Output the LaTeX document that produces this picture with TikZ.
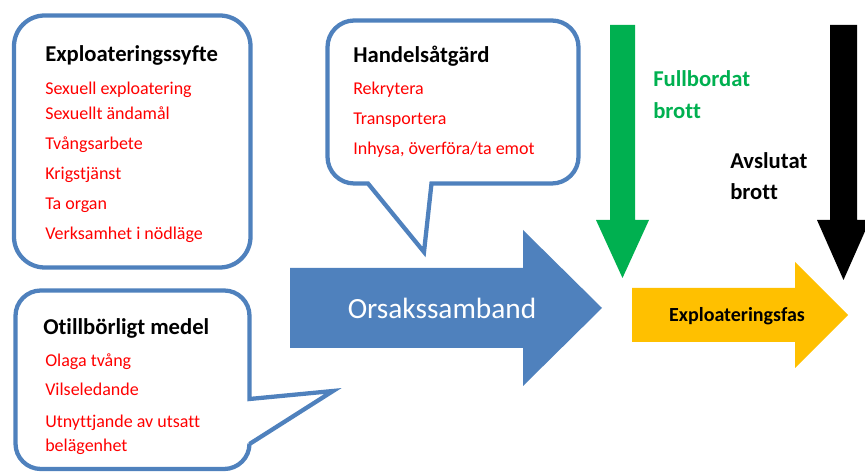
\documentclass[tikz,border=0pt]{standalone}
\usepackage{fontspec}
\setmainfont[Ligatures=NoCommon]{Carlito}
\definecolor{calloutblue}{RGB}{79,129,189}
\definecolor{itemred}{RGB}{255,0,0}
\definecolor{donegreen}{RGB}{0,176,80}
\definecolor{phaseyellow}{RGB}{255,192,0}
\begin{document}
\begin{tikzpicture}[x=0.75pt, y=-0.75pt,
    callout/.style={draw=calloutblue, line width=3.2pt},
    heading/.style={anchor=base west, inner sep=0pt, font=\fontsize{17}{20}\selectfont\bfseries},
    item/.style={anchor=base west, inner sep=0pt, text=itemred, font=\fontsize{13.5}{16}\selectfont}]
        \useasboundingbox (0,0) rectangle (865,473);

        % Callout boxes
        \draw[callout, rounded corners=23pt] (14,15.5) rectangle (250.5,267.5);
        \draw[callout, rounded corners=20pt] (450,20.5) -- (578.5,20.5) -- (578.5,183.5) [sharp corners] -- (431.5,183.5) -- (424,252) -- (368,183.5) [rounded corners=20pt] -- (327.5,183.5) -- (327.5,20.5) -- cycle;
        \draw[callout, rounded corners=19pt] (130,290.5) -- (249.5,290.5) [sharp corners] -- (249.5,399) -- (333,391) -- (249.5,444) [rounded corners=19pt] -- (249.5,469) -- (15.5,469) -- (15.5,290.5) -- cycle;

        % Block arrows
        \fill[calloutblue] (290,268) -- (523,268) -- (523,230) -- (602,308) -- (523,386) -- (523,348) -- (290,348) -- cycle;
        \fill[donegreen] (610,25) -- (635,25) -- (635,220) -- (649,220) -- (622.5,278) -- (596,220) -- (610,220) -- cycle;
        \fill[black] (830,25) -- (857,25) -- (857,220) -- (870,220) -- (843.5,280) -- (817,220) -- (830,220) -- cycle;
        \fill[phaseyellow] (632,288) -- (795,288) -- (795,262) -- (848,315) -- (795,368) -- (795,342) -- (632,342) -- cycle;

        % Exploateringssyfte
        \node[heading] (syfte) at (45,61.5) {Exploateringssyfte};
        \node[item] (sexexp) at (45,95) {Sexuell exploatering};
        \node[item] (sexand) at (45,119.5) {Sexuellt ändamål};
        \node[item] (tvang) at (45,150) {Tvångsarbete};
        \node[item] (krig) at (45,180) {Krigstjänst};
        \node[item] (organ) at (45,210) {Ta organ};
        \node[item] (nodlage) at (45,240) {Verksamhet i nödläge};

        % Otillbörligt medel
        \node[heading] (medel) at (43,335) {Otillbörligt medel};
        \node[item] (olaga) at (45,366.5) {Olaga tvång};
        \node[item] (vilse) at (45,396) {Vilseledande};
        \node[item] (utnytt) at (45,428) {Utnyttjande av utsatt};
        \node[item] (belag) at (45,452) {belägenhet};

        % Handelsåtgärd
        \node[heading] (handel) at (353,63) {Handelsåtgärd};
        \node[item] (rekr) at (353,95) {Rekrytera};
        \node[item] (transp) at (353,125) {Transportera};
        \node[item] (inhysa) at (353,155) {Inhysa, överföra/ta emot};

        % Labels of the arrows
        \node[anchor=base, inner sep=0pt, text=white, font=\fontsize{22}{26}\selectfont] (orsak) at (442,319) {Orsakssamband};
        \node[anchor=base, inner sep=0pt, font=\fontsize{15}{18}\selectfont\bfseries] (fas) at (737,322) {Exploateringsfas};
        \node[heading, text=donegreen] (full) at (653,87) {Fullbordat};
        \node[heading, text=donegreen] (fullbrott) at (653,119) {brott};
        \node[heading] (avsl) at (730,169) {Avslutat};
        \node[heading] (avslbrott) at (730,200) {brott};
\end{tikzpicture}
\end{document}
